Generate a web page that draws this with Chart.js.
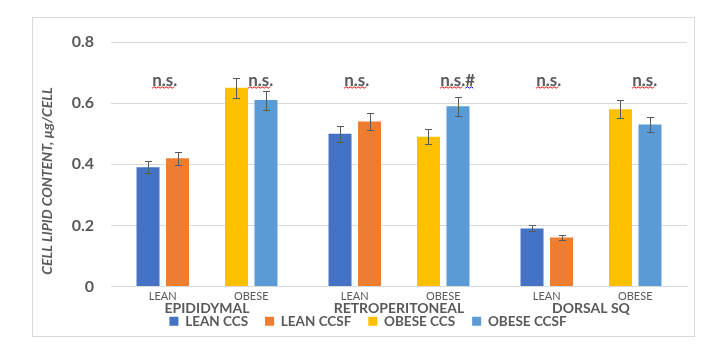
<!DOCTYPE html>
<html>
<head>
<meta charset="utf-8">
<script src="https://cdn.jsdelivr.net/npm/chart.js@4.4.0/dist/chart.umd.min.js"></script>
<style>
  html, body { margin: 0; padding: 0; background: #fff; }
</style>
</head>
<body>
<canvas id="lipidChart" width="713" height="352"></canvas>
<script>
// depots on the x axis, each one split into LEAN / OBESE
const depots = ['EPIDIDYMAL', 'RETROPERITONEAL', 'DORSAL SQ'];
const subLabels = ['LEAN', 'OBESE'];
const yTicks = [0, 0.2, 0.4, 0.6, 0.8];

const leanCcs = [0.39, 0.50, 0.19];
const leanCcsErr = [0.02, 0.026, 0.01];
const leanCcsf = [0.42, 0.54, 0.16];
const leanCcsfErr = [0.021, 0.028, 0.009];
const obeseCcs = [0.65, 0.49, 0.58];
const obeseCcsErr = [0.033, 0.024, 0.029];
const obeseCcsf = [0.61, 0.59, 0.53];
const obeseCcsfErr = [0.031, 0.031, 0.026];

const nsLean = ['n.s.', 'n.s.', 'n.s.'];
const nsObese = ['n.s.', 'n.s.#', 'n.s.'];
const nsLevel = 0.675;

const yTitle = 'CELL LIPID CONTENT, µg/CELL';
const textColor = '#595959';
const gridColor = '#D9D9D9';
const fontFamily = 'Lato, "Open Sans", sans-serif';

function wavy(ctx, x0, x1, y, color) {
	ctx.save();
	ctx.strokeStyle = color;
	ctx.lineWidth = 1;
	ctx.beginPath();
	let up = true;
	ctx.moveTo(x0, y);
	for (let x = x0 + 2; x <= x1; x += 2) {
		ctx.lineTo(x, up ? y - 1.5 : y);
		up = !up;
	}
	ctx.stroke();
	ctx.restore();
}

const extras = {
	id: 'extras',
	beforeDraw(chart) {
		const ctx = chart.ctx;
		ctx.save();
		ctx.strokeStyle = gridColor;
		ctx.lineWidth = 1;
		ctx.strokeRect(32.5, 17.5, 662, 319);
		ctx.restore();
	},
	afterDatasetsDraw(chart) {
		const ctx = chart.ctx;
		const yScale = chart.scales.y;
		const xScale = chart.scales.x;
		const area = chart.chartArea;

		// error bars
		ctx.save();
		ctx.strokeStyle = '#595959';
		ctx.lineWidth = 1;
		chart.data.datasets.forEach((ds, i) => {
			if (!ds.err) return;
			chart.getDatasetMeta(i).data.forEach((bar, j) => {
				const v = ds.data[j];
				const e = ds.err[j];
				const x = Math.round(bar.x) + 0.5;
				const top = Math.round(yScale.getPixelForValue(v + e)) + 0.5;
				const bot = Math.round(yScale.getPixelForValue(v - e)) + 0.5;
				ctx.beginPath();
				ctx.moveTo(x, top); ctx.lineTo(x, bot);
				ctx.moveTo(x - 3.5, top); ctx.lineTo(x + 3.5, top);
				ctx.moveTo(x - 3.5, bot); ctx.lineTo(x + 3.5, bot);
				ctx.stroke();
			});
		});
		ctx.restore();

		// LEAN / OBESE sub-labels and depot names under them
		const m0 = chart.getDatasetMeta(0).data;
		const m1 = chart.getDatasetMeta(1).data;
		const m3 = chart.getDatasetMeta(3).data;
		const m4 = chart.getDatasetMeta(4).data;
		ctx.save();
		ctx.fillStyle = textColor;
		ctx.textAlign = 'center';
		ctx.textBaseline = 'middle';
		depots.forEach((d, j) => {
			ctx.font = '11px ' + fontFamily;
			ctx.fillText(subLabels[0], (m0[j].x + m1[j].x) / 2, area.bottom + 10);
			ctx.fillText(subLabels[1], (m3[j].x + m4[j].x) / 2, area.bottom + 10);
			ctx.font = 'bold 14px ' + fontFamily;
			ctx.fillText(d, xScale.getPixelForValue(j), area.bottom + 22);
		});
		ctx.restore();

		// n.s. markers
		ctx.save();
		ctx.fillStyle = textColor;
		ctx.font = 'bold 17px ' + fontFamily;
		ctx.textAlign = 'left';
		ctx.textBaseline = 'middle';
		const nsW = ctx.measureText('n.s.').width;
		const ny = yScale.getPixelForValue(nsLevel);
		const drawNs = (txt, pos) => {
			const x = xScale.getPixelForValue(pos) - nsW / 2;
			ctx.fillText(txt, x, ny);
			wavy(ctx, x, x + nsW - 2, ny + 8, '#FF0000');
			if (txt.length > 4) {
				const w = ctx.measureText(txt).width;
				wavy(ctx, x + nsW, x + w, ny + 8, '#0000FF');
			}
		};
		depots.forEach((d, j) => {
			drawNs(nsLean[j], j - 0.22);
			drawNs(nsObese[j], j + 0.28);
		});
		ctx.restore();

		// y axis title
		ctx.save();
		ctx.fillStyle = textColor;
		ctx.font = 'italic bold 14px ' + fontFamily;
		ctx.textAlign = 'center';
		ctx.textBaseline = 'middle';
		ctx.translate(47, 181);
		ctx.rotate(-Math.PI / 2);
		ctx.fillText(yTitle, 0, 0);
		ctx.restore();
	}
};

const lipidChart = new Chart(document.getElementById('lipidChart'), {
	type: 'bar',
	data: {
		labels: depots,
		datasets: [
			{ label: 'LEAN CCS', data: leanCcs, err: leanCcsErr, backgroundColor: '#4472C4' },
			{ label: 'LEAN CCSF', data: leanCcsf, err: leanCcsfErr, backgroundColor: '#ED7D31' },
			{ label: '', data: [null, null, null], backgroundColor: 'rgba(0,0,0,0)' },
			{ label: 'OBESE CCS', data: obeseCcs, err: obeseCcsErr, backgroundColor: '#FFC000' },
			{ label: 'OBESE CCSF', data: obeseCcsf, err: obeseCcsfErr, backgroundColor: '#5B9BD5' }
		]
	},
	options: {
		responsive: false,
		animation: false,
		devicePixelRatio: 1,
		categoryPercentage: 0.768,
		barPercentage: 0.78,
		layout: { padding: { left: 49, right: 26, top: 42, bottom: 14 } },
		plugins: {
			tooltip: { enabled: false },
			legend: {
				position: 'bottom',
				labels: {
					boxWidth: 9,
					boxHeight: 9,
					padding: 17,
					color: textColor,
					font: { family: fontFamily, size: 13.5, weight: 'bold' },
					filter: item => item.text !== ''
				}
			}
		},
		scales: {
			x: {
				grid: { display: false, drawTicks: false },
				border: { color: gridColor },
				ticks: { display: false },
				afterFit: scale => { scale.height = 11; }
			},
			y: {
				min: 0,
				max: 0.8,
				afterBuildTicks: scale => { scale.ticks = yTicks.map(v => ({ value: v })); },
				grid: { color: gridColor, drawTicks: false },
				border: { display: false },
				ticks: {
					padding: 17,
					color: textColor,
					font: { family: fontFamily, size: 16, weight: 'bold' },
					callback: v => String(v)
				},
				afterFit: scale => { scale.width = 62; }
			}
		}
	},
	plugins: [extras]
});
</script>
</body>
</html>
